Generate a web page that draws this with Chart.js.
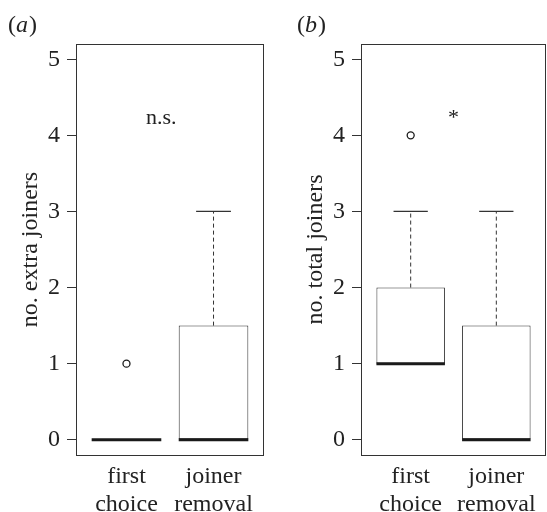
<!DOCTYPE html>
<html>
<head>
<meta charset="utf-8">
<script src="https://cdn.jsdelivr.net/npm/chart.js@4/dist/chart.umd.min.js"></script>
<style>
  body { margin: 0; background: #fff; }
  canvas { position: absolute; top: 0; }
  #panelA { left: 0; }
  #panelB { left: 270px; }
</style>
</head>
<body>
<canvas id="panelA" width="270" height="512"></canvas>
<canvas id="panelB" width="277" height="512"></canvas>
<script>
/* groups on the x axis */
var groups = [['first', 'choice'], ['joiner', 'removal']];
var yTicks = [0, 1, 2, 3, 4, 5];

/* (a) no. extra joiners */
var extraMin = [0, 0];
var extraQ1 = [0, 0];
var extraMed = [0, 0];
var extraQ3 = [0, 1.5];
var extraMax = [0, 3];
var extraOut = [[1], []];

/* (b) no. total joiners */
var totalMin = [1, 0];
var totalQ1 = [1, 0];
var totalMed = [1, 0];
var totalQ3 = [2, 1.5];
var totalMax = [3, 3];
var totalOut = [[4], []];

var ink = '#222';
var serif = '"Liberation Serif", "Times New Roman", serif';

function boxData(q1, q3) {
    return q1.map(function (v, i) { return {x: i + 1, y: [v, q3[i]]}; });
}
function medianData(med) {
    var pts = [];
    med.forEach(function (v, i) {
        pts.push({x: i + 0.6, y: v}, {x: i + 1.4, y: v}, {x: i + 1.5, y: null});
    });
    return pts;
}
function whiskerData(lo, q1, q3, hi) {
    var pts = [];
    hi.forEach(function (v, i) {
        pts.push({x: i + 1, y: q3[i]}, {x: i + 1, y: v}, {x: i + 1, y: null});
        pts.push({x: i + 1, y: lo[i]}, {x: i + 1, y: q1[i]}, {x: i + 1, y: null});
    });
    return pts;
}
function capData(lo, hi) {
    var pts = [];
    hi.forEach(function (v, i) {
        pts.push({x: i + 0.8, y: v}, {x: i + 1.2, y: v}, {x: i + 1, y: null});
        pts.push({x: i + 0.8, y: lo[i]}, {x: i + 1.2, y: lo[i]}, {x: i + 1, y: null});
    });
    return pts;
}
function outlierData(out) {
    var pts = [];
    out.forEach(function (list, i) {
        list.forEach(function (v) { pts.push({x: i + 1, y: v}); });
    });
    return pts;
}

function draw_panel(id, letter, ytitle, note, lo, q1, med, q3, hi, out, axisWidth, padRight) {
    var decor = {
        id: 'decor',
        afterDraw: function (chart) {
            var ctx = chart.ctx, a = chart.chartArea;
            ctx.save();
            ctx.strokeStyle = '#333';
            ctx.lineWidth = 1;
            ctx.strokeRect(Math.round(a.left) + 0.5, Math.round(a.top) + 0.5,
                Math.round(a.right - a.left) - 1, Math.round(a.bottom - a.top));
            /* panel letter */
            ctx.fillStyle = ink;
            ctx.textBaseline = 'alphabetic';
            ctx.textAlign = 'left';
            var x0 = letter.x;
            ctx.font = '24px ' + serif;
            ctx.fillText('(', x0, 32);
            x0 += ctx.measureText('(').width;
            ctx.font = 'italic 24px ' + serif;
            ctx.fillText(letter.text, x0, 32);
            x0 += ctx.measureText(letter.text).width + 1;
            ctx.font = '24px ' + serif;
            ctx.fillText(')', x0, 32);
            /* significance note */
            ctx.font = note.size + 'px ' + serif;
            ctx.textAlign = 'center';
            ctx.fillText(note.text, chart.scales.x.getPixelForValue(note.x),
                chart.scales.y.getPixelForValue(note.y));
            ctx.restore();
        }
    };

    new Chart(document.getElementById(id), {
        type: 'bar',
        data: {
            datasets: [
                {
                    type: 'bar', data: boxData(q1, q3), order: 4,
                    backgroundColor: '#fff', borderColor: '#333', borderWidth: 1,
                    borderSkipped: false, categoryPercentage: 1, barPercentage: 0.8
                },
                {
                    type: 'line', data: whiskerData(lo, q1, q3, hi), order: 3,
                    borderColor: '#333', borderWidth: 1, borderDash: [4, 3],
                    pointRadius: 0, spanGaps: false
                },
                {
                    type: 'line', data: capData(lo, hi), order: 2,
                    borderColor: '#333', borderWidth: 1.2,
                    pointRadius: 0, spanGaps: false
                },
                {
                    type: 'line', data: medianData(med), order: 1,
                    borderColor: '#1a1a1a', borderWidth: 3, borderCapStyle: 'butt',
                    pointRadius: 0, spanGaps: false
                },
                {
                    type: 'scatter', data: outlierData(out), order: 0,
                    pointStyle: 'circle', pointRadius: 3.5, borderWidth: 1.3,
                    borderColor: '#1a1a1a', backgroundColor: '#fff'
                }
            ]
        },
        options: {
            responsive: false,
            animation: false,
            events: [],
            layout: { autoPadding: false, padding: { top: 44, right: padRight, left: 0, bottom: 0 } },
            plugins: { legend: { display: false }, tooltip: { enabled: false } },
            scales: {
                x: {
                    type: 'linear', min: 0.42, max: 2.58, offset: false,
                    afterFit: function (s) { s.height = 57; s.paddingLeft = 0; s.paddingRight = 0; },
                    afterBuildTicks: function (s) {
                        s.ticks = groups.map(function (g, i) { return {value: i + 1}; });
                    },
                    grid: { display: false },
                    border: { display: false },
                    ticks: {
                        color: ink, padding: 0, maxRotation: 0, autoSkip: false,
                        font: { family: serif, size: 24, lineHeight: 1.17 },
                        callback: function (v) { return groups[v - 1]; }
                    }
                },
                y: {
                    min: -0.2, max: 5.2,
                    afterFit: function (s) { s.width = axisWidth; },
                    afterBuildTicks: function (s) {
                        s.ticks = yTicks.map(function (v) { return {value: v}; });
                    },
                    grid: { drawOnChartArea: false, drawTicks: true, tickLength: 9, color: '#333' },
                    border: { display: false },
                    ticks: {
                        color: ink, padding: 7,
                        font: { family: serif, size: 24 }
                    },
                    title: {
                        display: true, text: ytitle, color: ink,
                        font: { family: serif, size: 24, lineHeight: 1.2 },
                        padding: { top: axisWidth - 60, bottom: 0 }
                    }
                }
            }
        },
        plugins: [decor]
    });
}

function draw_all() {
    draw_panel('panelA', {text: 'a', x: 8}, 'no. extra joiners', {text: 'n.s.', x: 1.4, y: 4.15, size: 22},
        extraMin, extraQ1, extraMed, extraQ3, extraMax, extraOut, 76, 6);
    draw_panel('panelB', {text: 'b', x: 27}, 'no. total joiners', {text: '*', x: 1.5, y: 4.15, size: 22},
        totalMin, totalQ1, totalMed, totalQ3, totalMax, totalOut, 91, 1);
}

if (document.fonts && document.fonts.load) {
    Promise.all([
        document.fonts.load('24px "Liberation Serif"'),
        document.fonts.load('italic 24px "Liberation Serif"')
    ]).then(draw_all, draw_all);
} else {
    draw_all();
}
</script>
</body>
</html>
